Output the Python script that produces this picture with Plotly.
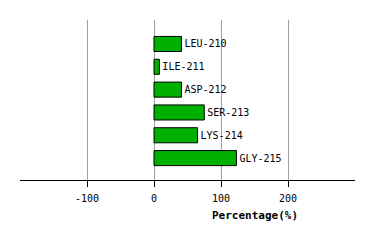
import plotly.graph_objects as go

residues = ["LEU-210", "ILE-211", "ASP-212", "SER-213", "LYS-214", "GLY-215"]
percentages = [41, 8, 41, 75, 65, 123]
tick_values = [-100, 0, 100, 200]
tick_labels = ["-100", "0", "100", "200"]

font_family = "DejaVu Sans Mono"

fig = go.Figure()
fig.add_trace(go.Bar(
    y=residues,
    x=percentages,
    orientation="h",
    marker=dict(color="#00b000", line=dict(color="black", width=1)),
    text=residues,
    textposition="outside",
    textfont=dict(family=font_family, size=10, color="black"),
    cliponaxis=False,
    width=0.66,
))

fig.update_layout(
    width=374, height=240,
    margin=dict(l=20, r=19, t=20, b=60),
    plot_bgcolor="white", paper_bgcolor="white",
    showlegend=False,
    font=dict(family=font_family, size=10, color="black"),
    xaxis=dict(
        range=[-200, 300],
        tickvals=tick_values, ticktext=tick_labels,
        showgrid=True, gridcolor="#a0a0a0", gridwidth=1,
        zeroline=True, zerolinecolor="#a0a0a0", zerolinewidth=1,
        showline=True, linecolor="black", linewidth=1,
        ticks="outside", ticklen=6, tickcolor="black",
        ticklabelstandoff=3,
        tickfont=dict(family=font_family, size=10, color="black"),
    ),
    yaxis=dict(
        type="category",
        categoryorder="array", categoryarray=residues,
        range=[5.96, -1.05],
        showticklabels=False, showgrid=False, zeroline=False, showline=False,
        ticks="",
    ),
    annotations=[dict(
        text="<b>Percentage(%)</b>", x=150, xref="x", y=-0.22, yref="paper",
        showarrow=False, xanchor="center", yanchor="middle",
        font=dict(family=font_family, size=11, color="black"),
    )],
)

fig.write_html("out.html")
